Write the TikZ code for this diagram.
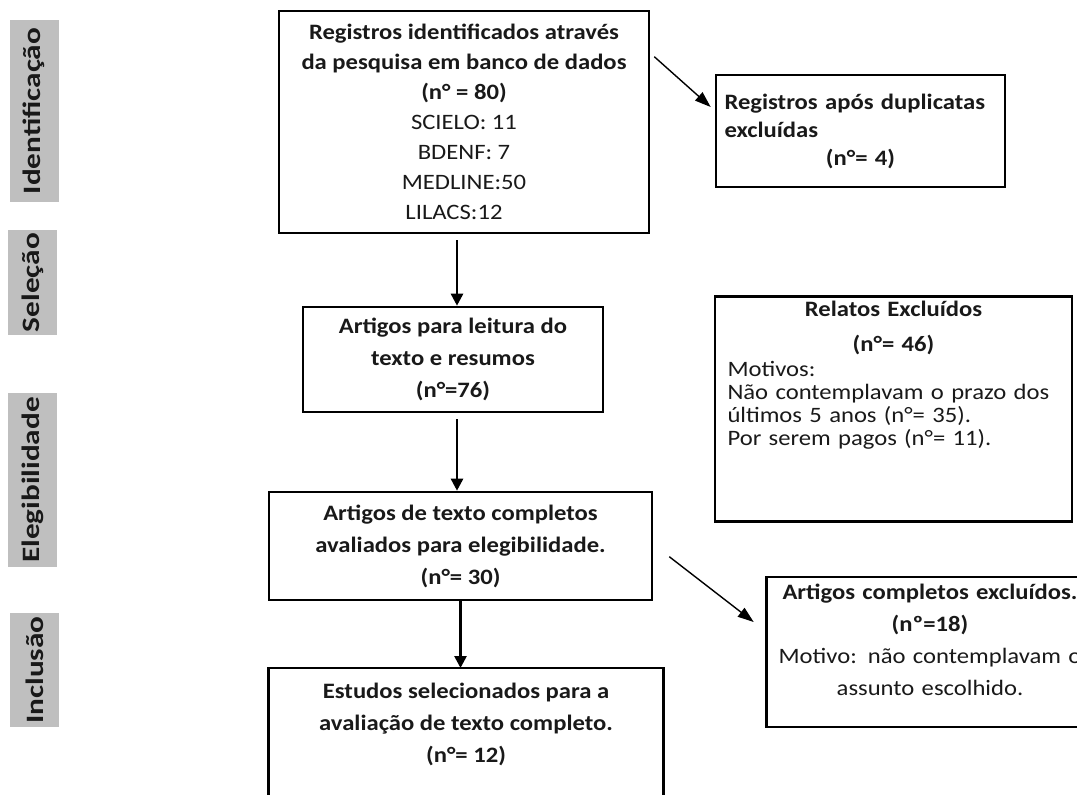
\documentclass[tikz,border=0pt]{standalone}
\usepackage{fontspec}
\setmainfont{Carlito}[FakeStretch=1.12]
\newfontfamily\phasefont{Carlito}[FakeStretch=1.25]
\usetikzlibrary{arrows.meta}
\newcommand{\ctr}[1]{\hspace*{\fill}#1\hspace*{\fill}\null}
\tikzset{gbox/.style={
    rectangle,
    draw,
    line width=1.3pt,
    align=center,
    text=black!90,
    inner sep=3pt,
    font=\fontsize{11pt}{16pt}\selectfont
  },
  mainbox/.style={gbox,font=\bfseries\fontsize{11pt}{16pt}\selectfont},
  openbox/.style={gbox,draw=none},
  phase/.style={
    fill=black!25,
    rotate=90,
    inner sep=0pt,
    minimum height=24.5pt,
    text=black!90,
    font=\phasefont\bfseries\fontsize{12.5pt}{14pt}\selectfont
  },
  flow/.style={line width=1.3pt,->},
  outflow/.style={line width=0.7pt,-{Triangle[length=8pt,width=5.5pt]}},
  >={Triangle[length=6pt,width=6pt]}
}
\begin{document}
\begin{tikzpicture}[x=0.5pt,y=-0.5pt]
  \useasboundingbox (0,0) rectangle (1077,794);
  % fases
  \node[phase,minimum width=91pt] (ident) at (34,111) {Identificação};
  \node[phase,minimum width=52.5pt] (selec) at (32.5,282.5) {Seleção};
  \node[phase,minimum width=87pt] (eleg) at (32.5,480) {Elegibilidade};
  \node[phase,minimum width=57pt] (incl) at (34.5,670) {Inclusão};
  % caixas centrais
  \node[mainbox,minimum width=185pt,minimum height=111pt,
    font=\bfseries\fontsize{11pt}{15pt}\selectfont] (reg) at (464,122)
    {Registros identificados através\\
    da pesquisa em banco de dados\\
    (n° = 80)\\
    \mdseries SCIELO: 11\hspace*{10pt}\\
    \mdseries BDENF: 7\\
    \mdseries MEDLINE:50\hspace*{10pt}\\
    \mdseries LILACS:12\hspace*{10pt}};
  \node[mainbox,minimum width=150pt,minimum height=52.5pt] (leit) at (453,359.5)
    {Artigos para leitura do\\ texto e resumos\\ (n°=76)};
  \node[mainbox,minimum width=191.5pt,minimum height=54pt] (elig) at (460.5,546)
    {Artigos de texto completos\\ avaliados para elegibilidade.\\ (n°= 30)};
  \node[mainbox,draw=none,anchor=north,minimum width=196pt,inner ysep=7pt] (est) at (466,668)
    {Estudos selecionados para a\\ avaliação de texto completo.\\ (n°= 12)};
  \draw[line width=1.3pt] ([yshift=-30pt]est.south west) |- (est.north east)
    -- ([yshift=-30pt]est.south east);
  % caixas laterais
  \node[gbox,align=left,text width=136pt,minimum width=144.5pt,minimum height=56pt,
    font=\bfseries\fontsize{11pt}{14pt}\selectfont] (dup) at (860.5,131)
    {Registros após duplicatas\\ excluídas\\ \ctr{(n°= 4)}};
  \node[gbox,anchor=north,align=left,text width=166pt,minimum width=178.5pt,
    inner ysep=2.5pt,text depth=100pt,
    font=\fontsize{11pt}{11.5pt}\selectfont] (rel) at (893.5,295)
    {\ctr{\textbf{Relatos Excluídos}}\\[6pt]
    \ctr{\textbf{(n°= 46)}}\\[1pt]
    Motivos:\\
    Não contemplavam o prazo dos\\
    últimos 5 anos (n°= 35).\\
    Por serem pagos (n°= 11).};
  \node[openbox,anchor=north,text width=156pt,minimum width=160pt,
    inner ysep=3pt,text depth=60pt] (exc) at (930,577)
    {\textbf{Artigos completos excluídos.}\\ \textbf{(nº=18)}\\
    Motivo: não contemplavam o\\ assunto escolhido.};
  \draw[line width=1.3pt] (exc.north east) -| (exc.south west) -- (exc.south east);
  % setas
  \draw[flow,shorten <=3pt] ([xshift=2pt]leit.north |- reg.south) -- ([xshift=2pt]leit.north);
  \draw[flow,shorten <=3pt] ([xshift=2pt]leit.south) -- ([xshift=2pt]leit.south |- elig.north);
  \draw[flow] (elig.south) -- (elig.south |- est.north);
  \draw[outflow] ([shift={(4,47)}]reg.north east) -- ([shift={(-4,-24)}]dup.west);
  \draw[outflow] ([shift={(16,66)}]elig.north east) -- ([shift={(-13,45)}]exc.north west);
\end{tikzpicture}
\end{document}
